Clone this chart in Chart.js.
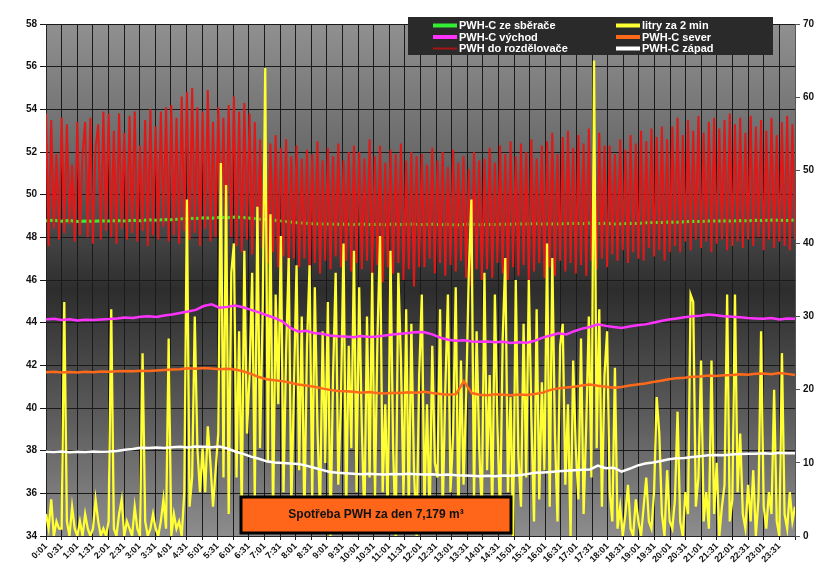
<!DOCTYPE html>
<html>
<head>
<meta charset="utf-8">
<script src="https://cdn.jsdelivr.net/npm/chart.js@4.4.1/dist/chart.umd.min.js"></script>
<style>
html, body { margin: 0; padding: 0; background: #fff; }
</style>
</head>
<body>
<canvas id="myChart" width="830" height="585"></canvas>
<script>
// x axis: one slot per half hour
const timeLabels = ['0:01','0:31','1:01','1:31','2:01','2:31','3:01','3:31','4:01','4:31','5:01','5:31',
  '6:01','6:31','7:01','7:31','8:01','8:31','9:01','9:31','10:01','10:31','11:01','11:31',
  '12:01','12:31','13:01','13:31','14:01','14:31','15:01','15:31','16:01','16:31','17:01','17:31',
  '18:01','18:31','19:01','19:31','20:01','20:31','21:01','21:31','22:01','22:31','23:01','23:31'];

// PWH-C ze sberace (every 15 min)
const sberac = [
  48.78,48.80,48.76,48.79,48.74,48.77,48.75,48.78,
  48.76,48.79,48.77,48.80,48.78,48.82,48.80,48.84,
  48.83,48.86,48.90,48.88,48.92,48.90,48.94,48.92,
  48.95,48.93,48.90,48.86,48.84,48.80,48.76,48.72,
  48.68,48.66,48.64,48.62,48.63,48.61,48.62,48.60,
  48.62,48.60,48.61,48.59,48.62,48.60,48.63,48.61,
  48.60,48.62,48.59,48.61,48.58,48.60,48.62,48.59,
  48.61,48.60,48.63,48.61,48.64,48.62,48.65,48.63,
  48.64,48.62,48.65,48.66,48.64,48.67,48.65,48.66,
  48.62,48.64,48.66,48.65,48.68,48.70,48.69,48.72,
  48.71,48.73,48.75,48.74,48.77,48.76,48.78,48.77,
  48.79,48.78,48.80,48.79,48.81,48.80,48.79,48.81
];

// litry za 2 min (every 5 min, right axis)
const litry = [
  3,1,5,0,2,1, 1,32,2,0,4,1, 0,2,0,3,1,0, 1,5,2,0,1,0,
  2,31,1,0,3,5, 0,2,1,0,4,1, 0,25,2,0,1,3, 1,0,2,5,1,27,
  0,3,1,2,0,6, 46,4,8,30,12,6, 12,6,15,10,4,9, 14,51,8,48,3,36,
  40,8,28,3,39,14, 22,36,5,45,12,30, 64,10,44,2,33,18, 41,6,25,38,4,20,
  37,9,30,2,26,37, 5,34,15,3,28,10, 32,0,22,36,7,18, 40,3,26,12,39,6,
  34,15,2,30,8,36, 4,27,41,6,18,2, 39,12,0,36,24,5, 31,3,29,9,0,22,
  33,4,18,2,26,10, 8,31,3,20,33,6, 14,34,2,24,7,19, 36,46,5,28,12,3,
  36,9,22,3,33,15, 2,27,38,6,19,0, 35,11,4,29,8,35, 16,2,31,5,21,9,
  40,4,38,14,2,26, 29,7,18,0,24,12, 5,27,3,15,30,8, 65,12,31,4,22,28,
  6,2,23,1,4,0, 3,7,1,0,5,2, 0,4,8,2,1,6, 19,14,3,0,9,2,
  1,5,17,2,0,6, 3,33,32,4,8,24, 2,6,1,24,3,10, 0,4,7,33,2,5,
  33,6,14,3,1,7, 2,9,0,5,28,4, 1,6,3,20,2,0, 25,3,1,6,2,4
];

// PWH-C vychod (every 15 min)
const vychod = [
  44.15,44.18,44.12,44.16,44.10,44.14,44.12,44.15,
  44.17,44.20,44.24,44.22,44.28,44.30,44.27,44.34,
  44.38,44.45,44.52,44.60,44.78,44.86,44.70,44.74,
  44.80,44.72,44.60,44.48,44.35,44.22,44.05,43.75,
  43.58,43.62,43.52,43.48,43.40,43.36,43.35,43.32,
  43.38,43.33,43.35,43.40,43.44,43.48,43.52,43.56,
  43.55,43.45,43.30,43.20,43.15,43.18,43.12,43.10,
  43.12,43.08,43.10,43.05,43.08,43.06,43.15,43.30,
  43.40,43.50,43.45,43.60,43.72,43.80,43.92,43.85,
  43.80,43.75,43.82,43.88,43.92,44.00,44.08,44.15,
  44.20,44.25,44.30,44.32,44.38,44.35,44.30,44.28,
  44.25,44.22,44.20,44.18,44.22,44.15,44.20,44.18
];

// PWH-C sever (every 15 min)
const sever = [
  41.68,41.70,41.66,41.69,41.67,41.70,41.68,41.71,
  41.70,41.72,41.74,41.72,41.75,41.73,41.76,41.78,
  41.80,41.82,41.86,41.84,41.88,41.85,41.82,41.84,
  41.80,41.72,41.60,41.45,41.35,41.30,41.26,41.18,
  41.10,41.05,41.00,40.92,40.85,40.80,40.78,40.76,
  40.72,40.75,40.70,40.68,40.72,40.70,40.74,40.72,
  40.76,40.70,40.66,40.62,40.65,41.25,40.70,40.62,
  40.60,40.64,40.62,40.60,40.63,40.61,40.66,40.72,
  40.85,40.92,40.96,41.00,41.06,41.10,41.04,41.00,
  40.95,40.98,41.05,41.10,41.15,41.22,41.28,41.35,
  41.40,41.42,41.46,41.48,41.52,41.50,41.54,41.55,
  41.58,41.56,41.60,41.62,41.58,41.64,41.60,41.55
];

// PWH do rozdelovace (every 5 min)
const rozdelovac = [
  53.8,47.6,53.5,48.4,51.9,47.9, 53.6,48.2,53.3,48.6,51.4,47.8, 53.4,48.1,51.9,53.4,48.0,53.6, 47.7,52.2,53.3,47.9,53.9,48.3,
  53.8,48.0,53.0,47.7,53.8,48.4, 52.9,47.9,53.7,48.2,53.9,47.8, 52.3,48.3,53.5,47.6,54.0,48.1, 53.2,47.9,53.9,48.5,54.1,47.8,
  54.2,48.1,53.6,47.7,54.6,48.3, 54.8,47.9,55.0,48.2,54.1,47.6, 53.9,48.4,54.9,47.8,53.4,48.0, 54.1,48.2,53.6,47.7,54.2,48.0,
  54.6,47.6,53.9,47.3,54.3,47.9, 53.8,47.2,53.4,46.9,52.6,47.5, 53.0,46.8,52.4,47.3,52.8,46.6, 52.2,47.1,52.6,46.5,51.8,47.0,
  52.3,46.6,51.7,47.0,52.1,46.4, 51.9,46.8,52.5,46.3,51.6,46.9, 52.2,46.5,51.8,47.1,52.4,46.6, 51.6,46.9,52.0,46.4,52.3,46.8,
  52.0,46.5,51.7,46.9,52.6,46.2, 51.8,46.7,52.3,45.9,51.5,46.6, 52.1,46.3,51.9,46.8,52.4,46.0, 51.6,46.5,52.0,45.7,51.8,46.6,
  51.9,46.6,51.4,47.0,52.2,46.3, 51.6,46.8,52.0,46.2,51.3,46.7, 52.1,46.4,51.5,46.9,51.8,46.1, 51.2,45.7,52.0,46.5,51.6,46.0,
  51.7,46.5,52.2,46.1,51.5,46.8, 52.3,46.3,51.9,46.0,52.5,46.6, 51.8,46.2,52.4,46.7,52.0,45.9, 52.6,46.4,51.7,46.8,52.3,46.1,
  52.5,46.6,52.9,46.2,51.9,46.9, 52.7,46.4,53.0,46.8,52.2,46.3, 52.8,46.7,52.4,46.2,53.1,46.9, 52.6,46.5,52.9,47.0,52.3,46.6,
  52.3,47.2,51.9,46.9,52.6,47.4, 52.1,46.8,52.8,47.3,52.4,47.0, 53.0,46.9,52.5,47.5,53.1,47.1, 52.7,47.4,53.2,46.9,52.6,47.3,
  53.2,47.6,53.6,47.3,52.8,47.8, 53.5,47.4,53.0,47.9,53.7,47.5, 52.9,47.8,53.4,47.3,53.6,47.7, 53.1,47.9,53.5,47.4,53.8,47.6,
  53.3,47.8,53.6,47.5,52.9,47.9, 53.7,47.6,53.2,48.0,53.5,47.4, 53.0,47.9,53.6,47.5,52.8,47.8, 53.4,47.6,53.7,47.4,53.3,47.9
];

// PWH-C zapad (every 15 min)
const zapad = [
  37.95,37.94,37.96,37.93,37.95,37.94,37.96,37.95,
  37.96,37.98,38.04,38.08,38.14,38.12,38.15,38.13,
  38.16,38.18,38.15,38.20,38.18,38.16,38.19,38.10,
  37.96,37.85,37.72,37.62,37.50,37.45,37.42,37.40,
  37.38,37.30,37.20,37.10,37.00,36.96,36.94,36.92,
  36.90,36.92,36.90,36.88,36.91,36.90,36.92,36.90,
  36.88,36.90,36.86,36.88,36.85,36.84,36.82,36.80,
  36.82,36.80,36.84,36.82,36.85,36.90,36.96,36.98,
  37.00,37.04,37.06,37.08,37.10,37.12,37.30,37.18,
  37.20,37.02,37.15,37.30,37.40,37.45,37.52,37.60,
  37.64,37.66,37.70,37.74,37.78,37.80,37.78,37.82,
  37.84,37.86,37.85,37.88,37.86,37.90,37.88,37.88
];

const totalText = 'Spotřeba PWH za den 7,179 m³';

// spread samples evenly over the 48 half-hour slots
function toPoints(arr) {
    return arr.map((v, i) => ({ x: i * 48 / (arr.length - 1), y: v }));
}

Chart.defaults.font.family = '"Liberation Sans", Arial, sans-serif';

// grey-dark-grey backdrop of the plot area
const backdrop = {
    id: 'backdrop',
    beforeDraw(chart) {
        const { ctx, chartArea: a } = chart;
        const g = ctx.createLinearGradient(0, a.top, 0, a.bottom);
        g.addColorStop(0, '#909090');
        g.addColorStop(0.25, '#6a6a6a');
        g.addColorStop(0.52, '#2d2d2d');
        g.addColorStop(0.78, '#5e5e5e');
        g.addColorStop(1, '#8d8d8d');
        ctx.save();
        ctx.fillStyle = g;
        ctx.fillRect(a.left, a.top, a.right - a.left, a.bottom - a.top);
        ctx.restore();
    }
};

// legend box and the total-consumption box drawn on top of the plot
const overlays = {
    id: 'overlays',
    afterDraw(chart) {
        const ctx = chart.ctx;
        const a = chart.chartArea;
        ctx.save();

        // total box
        const bx = a.left + 195, by = a.bottom - 39, bw = 270, bh = 36;
        ctx.fillStyle = '#ff661a';
        ctx.fillRect(bx, by, bw, bh);
        ctx.lineWidth = 3;
        ctx.strokeStyle = '#000';
        ctx.strokeRect(bx, by, bw, bh);
        ctx.fillStyle = '#111';
        ctx.font = 'bold 12px "Liberation Sans", Arial, sans-serif';
        ctx.textAlign = 'center';
        ctx.textBaseline = 'middle';
        ctx.fillText(totalText, bx + bw / 2, by + bh / 2);

        // legend
        const lx = 408, ly = 17;
        ctx.fillStyle = '#2a2a2a';
        ctx.fillRect(lx, ly, 365, 38);
        const cols = [lx + 24, lx + 207];
        const rows = [ly + 8.5, ly + 20, ly + 31.5];
        ctx.font = 'bold 11px "Liberation Sans", Arial, sans-serif';
        ctx.textAlign = 'left';
        chart.data.datasets.forEach((ds, i) => {
            const cx = cols[i % 2];
            const cy = rows[Math.floor(i / 2)];
            ctx.strokeStyle = ds.legendColor || ds.borderColor;
            ctx.lineWidth = ds.legendWidth || 4;
            ctx.beginPath();
            ctx.moveTo(cx + 1, cy);
            ctx.lineTo(cx + 25, cy);
            ctx.stroke();
            ctx.fillStyle = '#fff';
            ctx.fillText(ds.label, cx + 27, cy + 0.5);
        });
        ctx.restore();
    }
};

const ctx = document.getElementById('myChart').getContext('2d');

const tickFont = { size: 10, weight: 'bold' };

new Chart(ctx, {
    type: 'line',
    data: {
        datasets: [
            { label: 'PWH-C ze sběrače', data: toPoints(sberac), borderColor: '#33ee33', borderWidth: 3, yAxisID: 'y', order: 6 },
            { label: 'litry za 2 min', data: toPoints(litry), borderColor: '#ffff33', borderWidth: 2.3, yAxisID: 'y2', order: 4 },
            { label: 'PWH-C východ', data: toPoints(vychod), borderColor: '#ff33ff', borderWidth: 2.5, yAxisID: 'y', order: 1 },
            { label: 'PWH-C sever', data: toPoints(sever), borderColor: '#ff6a1a', borderWidth: 2.5, yAxisID: 'y', order: 3 },
            { label: 'PWH do rozdělovače', data: toPoints(rozdelovac), borderColor: '#e01818', borderWidth: 2, yAxisID: 'y', order: 5, legendColor: '#a51515', legendWidth: 2 },
            { label: 'PWH-C západ', data: toPoints(zapad), borderColor: '#ffffff', borderWidth: 2.5, yAxisID: 'y', order: 2 }
        ]
    },
    options: {
        responsive: false,
        animation: false,
        layout: { padding: { top: 24 } },
        elements: { point: { radius: 0 }, line: { tension: 0 } },
        plugins: { legend: { display: false }, tooltip: { enabled: false } },
        scales: {
            x: {
                type: 'linear',
                min: 0,
                max: 48,
                afterFit: s => { s.height = 49; },
                ticks: {
                    stepSize: 1,
                    autoSkip: false,
                    minRotation: 45,
                    maxRotation: 45,
                    padding: 1,
                    color: '#111',
                    font: { size: 9, weight: 'bold' },
                    callback: v => timeLabels[v] ?? ''
                },
                grid: { color: '#1a1a1a', tickLength: 4 },
                border: { color: '#222' }
            },
            y: {
                position: 'left',
                min: 34,
                max: 58,
                afterFit: s => { s.width = 46; },
                ticks: { stepSize: 2, padding: 3, color: '#111', font: tickFont },
                grid: { color: '#1a1a1a', tickLength: 6 },
                border: { color: '#222' }
            },
            y2: {
                position: 'right',
                min: 0,
                max: 70,
                afterFit: s => { s.width = 35; },
                ticks: { stepSize: 10, padding: 3, color: '#111', font: tickFont },
                grid: { drawOnChartArea: false, color: '#555', tickLength: 5 },
                border: { color: '#555' }
            }
        }
    },
    plugins: [backdrop, overlays]
});
</script>
</body>
</html>
